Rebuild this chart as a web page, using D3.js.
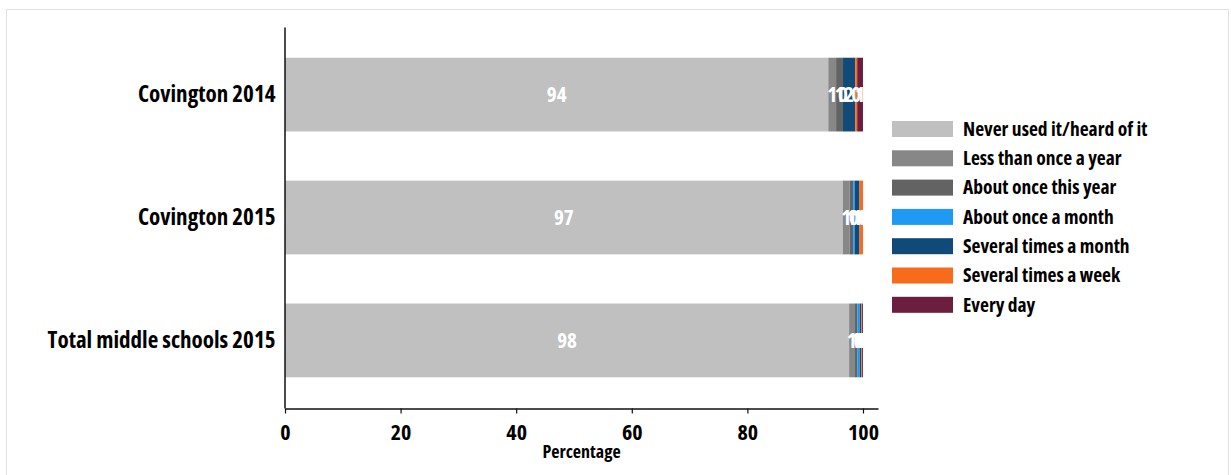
<!DOCTYPE html>
<html>
<head>
<meta charset="utf-8">
<script src="https://cdn.jsdelivr.net/npm/d3@7"></script>
<style>
  html, body { margin: 0; padding: 0; background: #fff; }
  svg { display: block; }
  text { font-family: "Open Sans", "Liberation Sans Narrow", "DejaVu Sans Condensed", sans-serif; font-stretch: 75%; font-weight: 700; }
</style>
</head>
<body>
<svg id="chart" width="1231" height="475"></svg>
<script>
// ---- data ----
const categories = ["Covington 2014", "Covington 2015", "Total middle schools 2015"];
const seriesNames = [
  "Never used it/heard of it",
  "Less than once a year",
  "About once this year",
  "About once a month",
  "Several times a month",
  "Several times a week",
  "Every day"
];
const neverUsed     = [94.0, 96.5, 97.6];
const lessThanYear  = [1.35, 1.2, 0.9];
const onceThisYear  = [1.2, 0.6, 0.5];
const onceMonth     = [0.0, 0.3, 0.45];
const severalMonth  = [2.1, 0.8, 0.25];
const severalWeek   = [0.35, 0.6, 0.15];
const everyDay      = [1.0, 0.0, 0.15];
const seriesValues = [neverUsed, lessThanYear, onceThisYear, onceMonth, severalMonth, severalWeek, everyDay];
const seriesColors = ["#c0c0c0", "#878787", "#636363", "#1e9af2", "#0f4a78", "#f86b1d", "#6b1e3d"];
const xTicks = [0, 20, 40, 60, 80, 100];
const xTitle = "Percentage";

// ---- layout ----
const svg = d3.select("#chart");
const margin = { left: 285, top: 27, right: 353, bottom: 67 };
const W = 1231, H = 475;
const plotW = W - margin.left - margin.right;
const plotH = H - margin.top - margin.bottom;

// frame
svg.append("rect")
  .attr("x", 6.5).attr("y", 9.5)
  .attr("width", 1222).attr("height", 480)
  .attr("fill", "none").attr("stroke", "#e2dfea").attr("stroke-width", 1);

const g = svg.append("g").attr("transform", `translate(${margin.left},${margin.top})`);

const x = d3.scaleLinear().domain([0, 102.6]).range([0, plotW]);
const y = d3.scaleBand().domain(categories).range([0, plotH]).paddingInner(0.4).paddingOuter(0.25);

// stack
const rows = categories.map((c, i) => {
  const r = { cat: c };
  seriesNames.forEach((s, j) => r[s] = seriesValues[j][i]);
  return r;
});
const stacked = d3.stack().keys(seriesNames)(rows);

svg.append("defs").append("clipPath").attr("id", "plotclip")
  .append("rect").attr("x", 0).attr("y", 0).attr("width", x(100)).attr("height", plotH);

const barsG = g.append("g").attr("clip-path", "url(#plotclip)");

const layers = barsG.selectAll("g.layer").data(stacked).join("g")
  .attr("class", "layer")
  .attr("fill", (d, i) => seriesColors[i]);

layers.selectAll("rect").data(d => d).join("rect")
  .attr("x", d => x(d[0]))
  .attr("width", d => x(d[1]) - x(d[0]))
  .attr("y", d => y(d.data.cat))
  .attr("height", y.bandwidth());

const labelsG = barsG.append("g");
stacked.forEach(layer => {
  labelsG.selectAll(null).data(layer).join("text")
    .attr("x", d => (x(d[0]) + x(d[1])) / 2)
    .attr("y", d => y(d.data.cat) + y.bandwidth() / 2)
    .attr("dy", "0.35em")
    .attr("text-anchor", "middle")
    .attr("fill", "#ffffff")
    .style("font-size", "21px")
    .text(d => d3.format(".0f")(d[1] - d[0]));
});

// axes
const xAxis = g.append("g").attr("transform", `translate(0,${plotH + 0.5})`)
  .call(d3.axisBottom(x).tickValues(xTicks).tickSize(5).tickSizeOuter(0).tickPadding(11));
xAxis.select(".domain").attr("stroke", "#111").attr("stroke-width", 1.5);
xAxis.selectAll(".tick line").attr("stroke", "#111").attr("stroke-width", 1.2);
xAxis.selectAll(".tick text").style("font-size", "22px").attr("fill", "#000");

const yAxis = g.append("g").attr("transform", `translate(-0.5,0)`)
  .call(d3.axisLeft(y).tickSize(0).tickPadding(9));
yAxis.select(".domain").attr("stroke", "#111").attr("stroke-width", 1.5);
yAxis.selectAll(".tick text").style("font-size", "23px").attr("fill", "#000");

g.append("text")
  .attr("x", plotW / 2).attr("y", plotH + 50)
  .attr("text-anchor", "middle")
  .style("font-size", "18px")
  .attr("fill", "#000")
  .text(xTitle);

// legend
const legend = svg.append("g").attr("transform", "translate(892,121)");
const li = legend.selectAll("g").data(seriesNames).join("g")
  .attr("transform", (d, i) => `translate(0,${i * 29.3})`);
li.append("rect").attr("width", 61).attr("height", 16).attr("fill", (d, i) => seriesColors[i]);
li.append("text").attr("x", 71).attr("y", 8).attr("dy", "0.35em")
  .style("font-size", "19.5px").attr("fill", "#000").text(d => d);
</script>
</body>
</html>
